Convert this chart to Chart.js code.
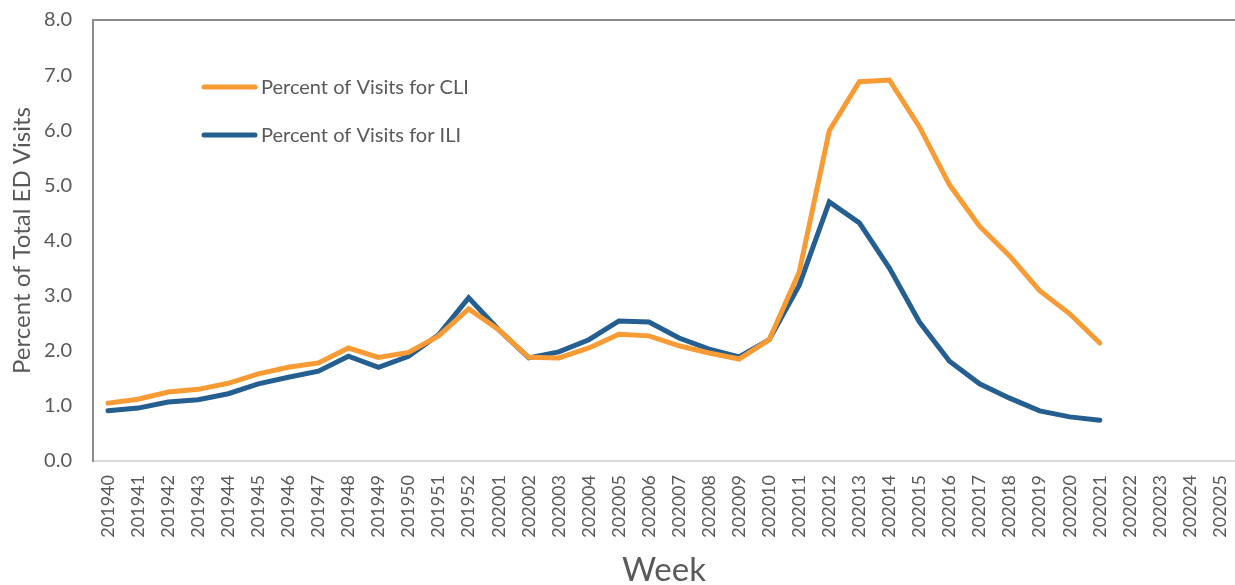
<!DOCTYPE html>
<html>
<head>
<meta charset="utf-8">
<script src="https://cdn.jsdelivr.net/npm/chart.js@4.4.1/dist/chart.umd.min.js"></script>
<style>
	html, body { margin: 0; padding: 0; background: #fff; }
	#chart-box { width: 1235px; height: 585px; }
</style>
</head>
<body>
<div id="chart-box"><canvas id="ed-chart" width="1235" height="585"></canvas></div>
<script>
const weeks = [
	'201940', '201941', '201942', '201943', '201944', '201945', '201946', '201947', '201948', '201949',
	'201950', '201951', '201952', '202001', '202002', '202003', '202004', '202005', '202006', '202007',
	'202008', '202009', '202010', '202011', '202012', '202013', '202014', '202015', '202016', '202017',
	'202018', '202019', '202020', '202021', '202022', '202023', '202024', '202025',
]
const cliValues = [
	1.05, 1.12, 1.25, 1.30, 1.41, 1.58, 1.70, 1.78, 2.05, 1.88,
	1.97, 2.27, 2.76, 2.38, 1.88, 1.87, 2.05, 2.30, 2.27, 2.09,
	1.96, 1.85, 2.20, 3.43, 5.99, 6.88, 6.91, 6.06, 5.01, 4.26,
	3.72, 3.09, 2.67, 2.14, null, null, null, null,
]
const iliValues = [
	0.91, 0.96, 1.07, 1.11, 1.22, 1.40, 1.52, 1.63, 1.90, 1.70,
	1.90, 2.29, 2.96, 2.38, 1.87, 1.98, 2.20, 2.54, 2.52, 2.23,
	2.03, 1.89, 2.20, 3.19, 4.70, 4.32, 3.50, 2.52, 1.81, 1.40,
	1.14, 0.91, 0.80, 0.74, null, null, null, null,
]
const yTicks = [0, 1, 2, 3, 4, 5, 6, 7, 8]

const textColor = '#595959'
const fontFamily = 'Lato, "Open Sans", sans-serif'

// legend sits inside the plot and there is a frame line on top
const insideLegend = {
	id: 'insideLegend',
	afterDraw(chart) {
		const ctx = chart.ctx
		const area = chart.chartArea
		ctx.save()
		ctx.strokeStyle = '#8c8c8c'
		ctx.lineWidth = 2
		ctx.beginPath()
		ctx.moveTo(area.left, area.top)
		ctx.lineTo(chart.width, area.top)
		ctx.stroke()

		ctx.font = '20px ' + fontFamily
		ctx.textBaseline = 'middle'
		ctx.lineCap = 'round'
		chart.data.datasets.forEach((ds, i) => {
			const y = 87 + i * 48
			ctx.strokeStyle = ds.borderColor
			ctx.lineWidth = 5
			ctx.beginPath()
			ctx.moveTo(204, y)
			ctx.lineTo(255, y)
			ctx.stroke()
			ctx.fillStyle = textColor
			ctx.fillText(ds.label, 261, y + 1)
		})
		ctx.restore()
	},
}

function drawChart() {
	const canvas = document.getElementById('ed-chart')
	new Chart(canvas, {
		type: 'line',
		data: {
			labels: weeks,
			datasets: [
				{
					label: 'Percent of Visits for CLI',
					data: cliValues,
					borderColor: '#F99B35',
					borderWidth: 5,
					pointRadius: 0,
					borderCapStyle: 'round',
					borderJoinStyle: 'miter',
					tension: 0,
				},
				{
					label: 'Percent of Visits for ILI',
					data: iliValues,
					borderColor: '#255E91',
					borderWidth: 5,
					pointRadius: 0,
					borderCapStyle: 'round',
					borderJoinStyle: 'miter',
					tension: 0,
				},
			],
		},
		options: {
			responsive: false,
			animation: false,
			layout: { padding: { top: 20, right: 0, left: 0, bottom: 0 } },
			plugins: {
				legend: { display: false },
				tooltip: { enabled: false },
			},
			scales: {
				x: {
					offset: true,
					afterFit: axis => {
						axis.height = 124
						axis.paddingLeft = 0
						axis.paddingRight = 0
					},
					grid: { display: false, drawTicks: false },
					border: { color: '#d9d9d9', width: 2 },
					ticks: {
						autoSkip: false,
						maxRotation: 90,
						minRotation: 90,
						padding: 14,
						color: textColor,
						font: { family: fontFamily, size: 18 },
					},
					title: {
						display: true,
						text: 'Week',
						color: textColor,
						font: { family: fontFamily, size: 33 },
						padding: { top: 0, bottom: -5 },
					},
				},
				y: {
					min: 0,
					max: 8,
					afterBuildTicks: axis => {
						axis.ticks = yTicks.map(v => ({ value: v }))
					},
					afterFit: axis => {
						axis.width = 93
						axis.paddingTop = 0
						axis.paddingBottom = 0
					},
					grid: { display: false, drawTicks: false },
					border: { color: '#8c8c8c', width: 2 },
					ticks: {
						padding: 21,
						color: textColor,
						font: { family: fontFamily, size: 20 },
						callback: v => v.toFixed(1),
					},
					title: {
						display: true,
						text: 'Percent of Total ED Visits',
						color: textColor,
						font: { family: fontFamily, size: 24 },
						padding: { top: 8, bottom: 0 },
					},
				},
			},
		},
		plugins: [insideLegend],
	})
}
drawChart()
</script>
</body>
</html>
